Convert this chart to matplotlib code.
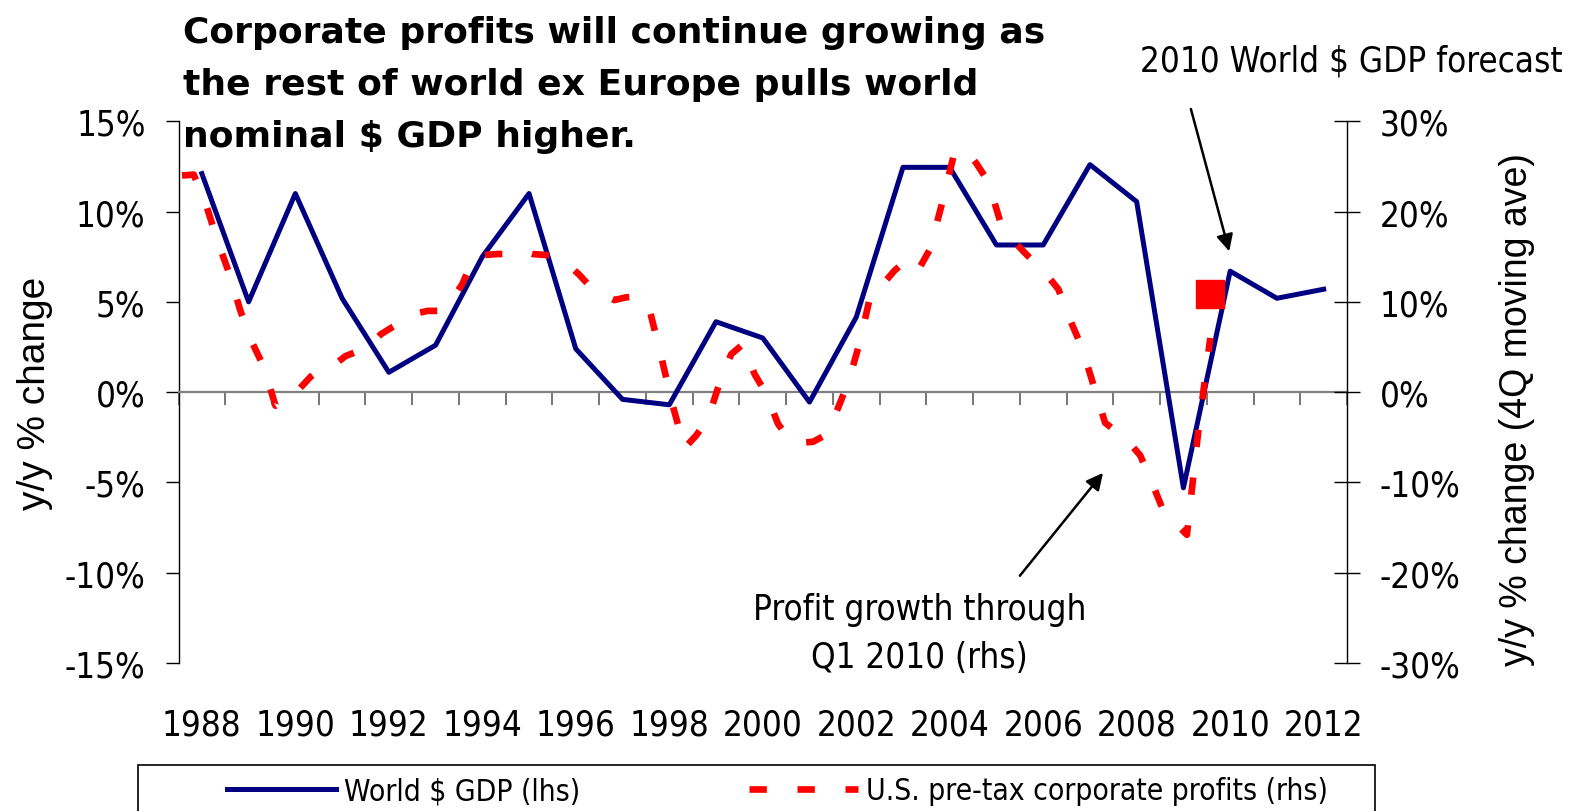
import os
import numpy as np
import matplotlib
matplotlib.use("Agg")
import matplotlib.pyplot as plt
from matplotlib import font_manager
from matplotlib.font_manager import FontProperties
from matplotlib.lines import Line2D
from matplotlib.patches import Rectangle
from matplotlib.ticker import FuncFormatter

# ---- data ----
years = list(range(1988, 2013))
world_gdp = [12.1, 5.0, 11.0, 5.2, 1.1, 2.6, 7.5, 11.0, 2.4, -0.4, -0.7, 3.9, 3.0,
             -0.55, 4.15, 12.45, 12.45, 8.15, 8.15, 12.6, 10.55, -5.3, 6.7, 5.2, 5.7]

# US pre-tax corporate profits, y/y 4Q moving ave, quarterly 1988Q1 .. 2010Q1
quarters = np.arange(1988, 2010.01, 0.25)
profits = [24.0, 24.1, 21.0, 16.9, 13.3, 9.0, 5.5, 2.8, -1.5, -0.7,
           0.3, 1.7, 2.7, 3.0, 4.0, 4.5, 5.0, 6.4, 7.2, 7.9,
           8.7, 9.0, 9.0, 10.0, 12.0, 15.0, 15.2, 15.3, 15.3, 15.7,
           15.3, 15.2, 15.1, 14.2, 13.0, 11.6, 10.8, 10.2, 10.5, 10.6,
           9.2, 4.0, -1.5, -6.2, -4.8, -3.0, 1.0, 4.2, 5.3, 2.0,
           -0.2, -3.5, -5.3, -5.6, -5.5, -4.8, -2.2, 1.0, 5.5, 11.2,
           12.0, 13.5, 14.6, 13.5, 15.8, 20.7, 26.0, 27.0, 25.3, 23.3,
           19.0, 17.0, 15.6, 14.3, 13.0, 11.4, 8.0, 5.0, 0.8, -3.4,
           -4.4, -5.5, -7.0, -10.0, -13.2, -14.5, -15.8, -4.0, 6.0]
profit_marker_q = 2010.0
profit_marker_val = 10.9

title_lines = ["Corporate profits will continue growing as",
               "the rest of world ex Europe pulls world",
               "nominal $ GDP higher."]

navy = "#000080"
red = "#ff0000"


def narrow_font(size):
    # look for a narrow / condensed regular face, like Arial Narrow in the original
    fl = font_manager.fontManager.ttflist
    for f in fl:
        if f.name in ("Liberation Sans Narrow", "Arial Narrow") and f.weight in (400, "normal") \
                and f.style == "normal":
            return FontProperties(fname=f.fname, size=size)
    for key in ("DejaVuSansCondensed.ttf", "NotoSans-Condensed", "OpenSans_Condensed-Regular",
                "OpenSansCondensed", "Roboto_Condensed-Regular", "RobotoCondensed-Regular"):
        for f in fl:
            if os.path.basename(f.fname).startswith(key.replace(".ttf", "")) and \
                    "Bold" not in f.fname and "Italic" not in f.fname and "Oblique" not in f.fname:
                return FontProperties(fname=f.fname, size=size)
    return FontProperties(family="Liberation Sans", size=size * 0.86)


nf = narrow_font(25)
lf = narrow_font(21.5)

W, H = 1581, 812
fig = plt.figure(figsize=(W / 100, H / 100), dpi=100)
ax = fig.add_axes([178.5 / W, 1 - 664 / H, (1347 - 178.5) / W, (664 - 122.3) / H])

# excel puts the quarterly series on its own date axis, a bit offset from the categories
prof_x = quarters - 0.425

ax.plot(years, world_gdp, color=navy, lw=3.6, solid_joinstyle="round", zorder=3)
ax.set_xlim(1987.5, 2012.5)
ax.set_ylim(-15, 15)

ax2 = ax.twinx()
ax2.plot(prof_x, profits, color=red, lw=4.8, dashes=(2.6, 4.6), dash_capstyle="butt")
ax2.plot([profit_marker_q - 0.425], [profit_marker_val], "s", color=red, ms=19.5)
ax2.set_ylim(-30, 30)

pct = FuncFormatter(lambda v, p: "%d%%" % v)

# left axis
for s in ["top", "right"]:
    ax.spines[s].set_visible(False)
ax.spines["left"].set_linewidth(1.0)
ax.spines["bottom"].set_position(("data", 0))
ax.spines["bottom"].set_color("#808080")
ax.spines["bottom"].set_linewidth(1.6)
ax.set_yticks(range(-15, 16, 5))
ax.yaxis.set_major_formatter(pct)
ax.tick_params(axis="y", direction="out", length=9.7, width=1.0, pad=14)
ax.set_xticks(range(1988, 2013, 2))
ax.set_xticks(np.arange(1987.5, 2013, 1), minor=True)
ax.tick_params(axis="x", which="major", length=0, pad=227)
ax.tick_params(axis="x", which="minor", direction="out", length=9.5, width=1.2, color="#606060")
for lab in ax.get_xticklabels() + ax.get_yticklabels():
    lab.set_fontproperties(nf)

# right axis
for s in ["top", "left", "bottom"]:
    ax2.spines[s].set_visible(False)
ax2.spines["right"].set_linewidth(1.0)
ax2.set_yticks(range(-30, 31, 10))
ax2.yaxis.set_major_formatter(pct)
ax2.tick_params(axis="y", direction="inout", length=19.4, width=1.0, pad=14)
for lab in ax2.get_yticklabels():
    lab.set_fontproperties(nf)

# axis titles
fig.text(35 / W, 1 - 393 / H, "y/y % change", rotation=90, ha="center", va="center",
         family="Liberation Sans", fontsize=28)
fig.text(1517 / W, 1 - 410 / H, "y/y % change (4Q moving ave)", rotation=90,
         ha="center", va="center", family="Liberation Sans", fontsize=27)

# title
for i, line in enumerate(title_lines):
    fig.text(183 / W, 1 - (43 + 52 * i) / H, line, ha="left", va="baseline",
             family="DejaVu Sans", fontweight="bold", fontsize=26)

# annotations
arrow = dict(arrowstyle="-|>", color="black", lw=1.8, mutation_scale=25, shrinkA=0, shrinkB=0)
ax.annotate("", xy=(2009.98, 7.8), xytext=(2009.16, 15.68), arrowprops=arrow,
            annotation_clip=False)
ax.text(2012.6, 18.34, "2010 World $ GDP forecast", ha="center", va="center",
        fontproperties=nf, clip_on=False)
ax.annotate("", xy=(2007.28, -4.47), xytext=(2005.5, -10.17), arrowprops=arrow)
ax.text(2003.36, -13.35, "Profit growth through\nQ1 2010 (rhs)", ha="center", va="center",
        fontproperties=nf, linespacing=1.5)

# legend
legend_kw = dict(frameon=False, borderpad=0, borderaxespad=0, handletextpad=0.27,
                 handlelength=3.65, prop=lf, loc="center left")
h_blue = Line2D([], [], color=navy, lw=3.6)
h_red = Line2D([], [], color=red, lw=4.8, dashes=(2.6, 4.6), dash_capstyle="butt")
leg1 = fig.legend([h_blue], ["World $ GDP (lhs)"], bbox_to_anchor=(227 / W, 1 - 792 / H), **legend_kw)
leg2 = fig.legend([h_red], ["U.S. pre-tax corporate profits (rhs)"],
                  bbox_to_anchor=(749 / W, 1 - 792 / H), **legend_kw)
fig.add_artist(Rectangle((138 / W, -0.1), 1237 / W, (812 - 766) / H + 0.1,
                         transform=fig.transFigure, fill=False, ec="black", lw=1.2))

fig.savefig("out.png", dpi=100)
